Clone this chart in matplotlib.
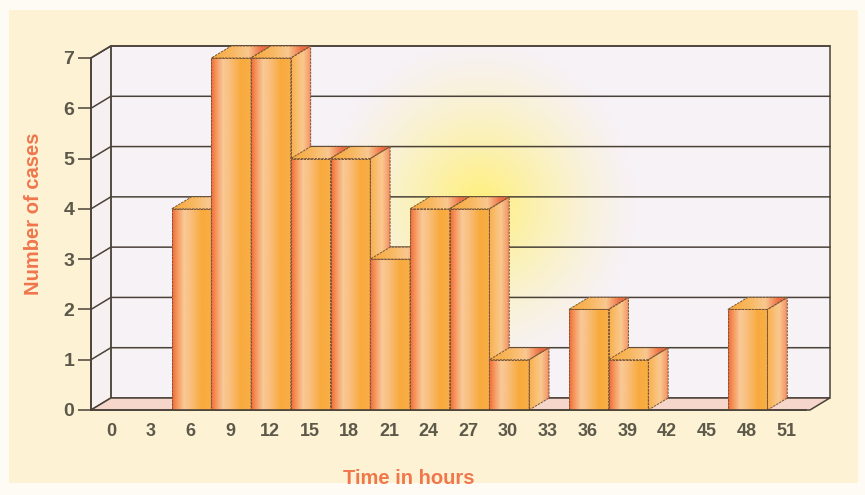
import numpy as np
import matplotlib
matplotlib.use("Agg")
import matplotlib.pyplot as plt
from matplotlib.colors import LinearSegmentedColormap, to_rgb
from matplotlib.patches import Polygon, Rectangle

hours = [0, 3, 6, 9, 12, 15, 18, 21, 24, 27, 30, 33, 36, 39, 42, 45, 48, 51]
cases = [0, 0, 4, 7, 7, 5, 5, 3, 4, 4, 1, 0, 2, 1, 0, 0, 2, 0]

LINE = "#4a4238"
TEXT = "#5c584a"
LABEL = "#f0764c"

plt.rcParams["font.family"] = ["Liberation Sans", "DejaVu Sans"]

front_cmap = LinearSegmentedColormap.from_list("front", [
    (0, "#ee6a3c"), (0.1, "#f58f54"), (0.3, "#f9c998"),
    (0.5, "#f9bd78"), (0.75, "#f8aa3c"), (1, "#f8ae48")])
side_cmap = LinearSegmentedColormap.from_list("side", [
    (0, "#f9b04c"), (0.6, "#f9c98f"), (0.9, "#f6a070"), (1, "#f08a5c")])
top_cmap = LinearSegmentedColormap.from_list("top", [
    (0, "#f8a83c"), (0.35, "#f8b860"), (0.62, "#f9c890"), (0.85, "#ef7046"), (1, "#ee6a40")])


def fill_gradient(ax, poly, cmap, z):
    # horizontal gradient clipped to a polygon
    pts = np.array(poly)
    patch = Polygon(pts, closed=True, transform=ax.transData, fc="none", ec="none")
    ax.add_patch(patch)
    grad = np.linspace(0, 1, 64).reshape(1, -1)
    im = ax.imshow(grad, cmap=cmap, aspect="auto", zorder=z, interpolation="bilinear",
                   extent=(pts[:, 0].min(), pts[:, 0].max(), pts[:, 1].min(), pts[:, 1].max()))
    im.set_clip_path(patch)
    # images get cropped to the axes box otherwise, tops stick out of it
    im.set_clip_box(ax.figure.bbox)


fig = plt.figure(figsize=(8.65, 4.95), dpi=100, facecolor="#fdfbf4")
fig.add_artist(Rectangle((9 / 865, 12 / 495), 849 / 865, 473 / 495, zorder=-1,
                         transform=fig.transFigure, fc="#fdf2d3", ec="none"))

ax = fig.add_axes([91 / 865, 85 / 495, 715 / 865, 352 / 495])
ax.patch.set_visible(False)
ax.set_autoscale_on(False)
n = len(hours)
ymax = 7
ax.set_xlim(0, n)
ax.set_ylim(0, ymax)

# depth of the fake 3D box in data units
dx = 0.5
dy = 12 / 50.3
# floor runs a little past the last category, bars sit a little right of the ticks
end = n + 0.1
shift = 0.03

wall = Polygon([(dx, dy), (end + dx, dy), (end + dx, ymax + dy), (dx, ymax + dy)],
               fc="#f7f2f6", ec=LINE, lw=1.1, zorder=1, clip_on=False)
ax.add_patch(wall)
ax.add_patch(Polygon([(0, 0), (dx, dy), (dx, ymax + dy), (0, ymax)],
                     fc="#f6f0f0", ec=LINE, lw=1.1, zorder=1, clip_on=False))
ax.add_patch(Polygon([(0, 0), (end, 0), (end + dx, dy), (dx, dy)],
                     fc="#f6d6ca", ec=LINE, lw=1.1, zorder=1, clip_on=False))

# yellow glow on the back wall
gx, gy = np.meshgrid(np.linspace(-1, 1, 200), np.linspace(-1, 1, 200))
glow = np.zeros((200, 200, 4))
glow[..., :3] = to_rgb("#fff07a")
glow[..., 3] = np.clip(1 - np.hypot(gx, gy), 0, 1) ** 1.3
im = ax.imshow(glow, aspect="auto", zorder=1.5, extent=(5.8, 13.8, 0.8, 7.4), origin="lower")
im.set_clip_path(wall)
im.set_clip_box(fig.bbox)

for v in range(1, ymax + 1):
    ax.plot([0, dx, end + dx], [v, v + dy, v + dy], color=LINE, lw=1.1, zorder=2, clip_on=False)

z = 3
for i, c in enumerate(cases):
    if c == 0:
        continue
    l, r = i + shift, i + 1 + shift
    fill_gradient(ax, [(l, 0), (r, 0), (r, c), (l, c)], front_cmap, z)
    side = [(r, 0), (r + dx, dy), (r + dx, c + dy), (r, c)]
    fill_gradient(ax, side, side_cmap, z)
    top = [(l, c), (r, c), (r + dx, c + dy), (l + dx, c + dy)]
    fill_gradient(ax, top, top_cmap, z)
    for poly in ([(l, 0), (r, 0), (r, c), (l, c)], side, top):
        ax.add_patch(Polygon(poly, fc="none", ec="#7a5636", lw=0.7, ls=(0, (2.5, 1)),
                             zorder=z + 0.5, clip_on=False))
    z += 1

for s in ["top", "right"]:
    ax.spines[s].set_visible(False)
for s in ["left", "bottom"]:
    ax.spines[s].set_color(LINE)
    ax.spines[s].set_linewidth(1.2)
    ax.spines[s].set_zorder(50)

ax.set_xticks(np.arange(n) + 0.5)
ax.set_xticklabels(hours)
ax.set_yticks(range(ymax + 1))
ax.tick_params(axis="x", length=0, pad=9.5, labelsize=13, labelcolor=TEXT)
ax.tick_params(axis="y", length=9.5, width=1.1, color=LINE, pad=2.5, labelsize=14, labelcolor=TEXT)
for t in ax.get_xticklabels() + ax.get_yticklabels():
    t.set_fontweight("bold")

fig.text(409 / 865, 1 - 478 / 495, "Time in hours", color=LABEL, fontsize=14.5, fontweight="bold",
         ha="center", va="center")
fig.text(34 / 865, 1 - 214 / 495, "Number of cases", color=LABEL, fontsize=14.5, fontweight="bold",
         rotation=90, ha="center", va="center")

fig.savefig("out.png", dpi=100)
